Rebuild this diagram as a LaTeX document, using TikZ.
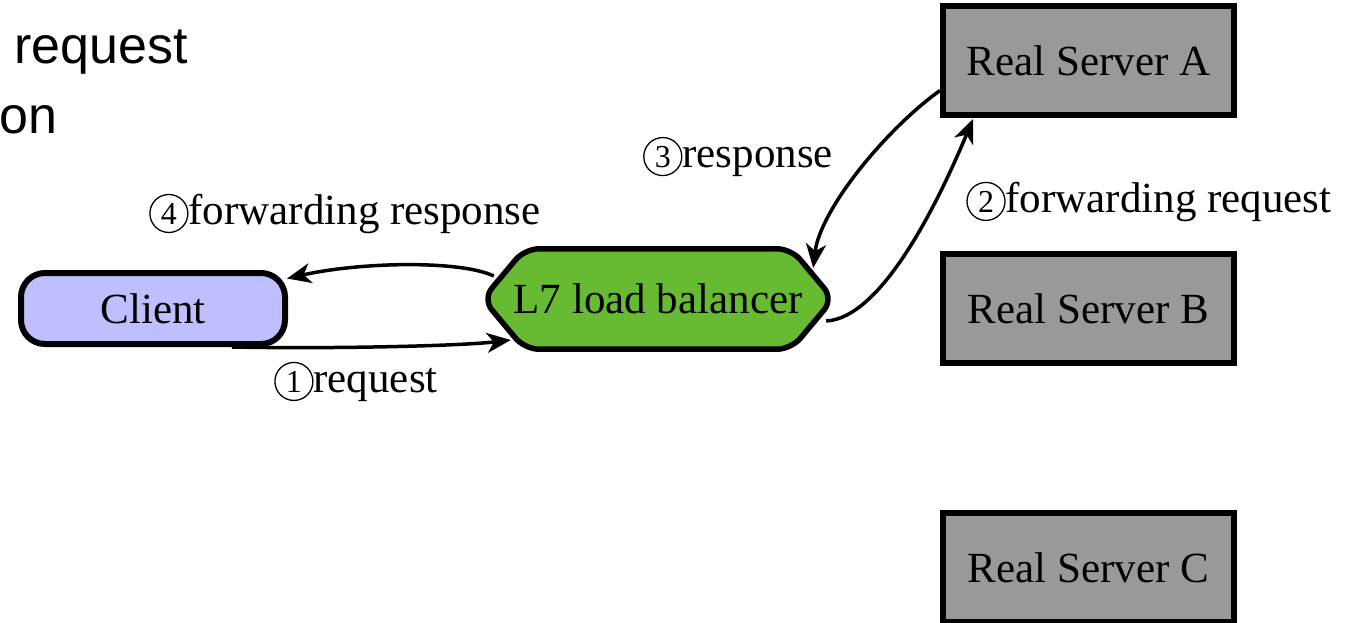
\documentclass[tikz,border=0pt]{standalone}
\usepackage{fontspec}
\setmainfont{Liberation Serif}
\newfontfamily\notesans{Liberation Sans}
\usetikzlibrary{arrows.meta,backgrounds}

\definecolor{clientfill}{HTML}{BFBFFF}
\definecolor{lbfill}{HTML}{66BB33}
\definecolor{serverfill}{HTML}{999999}

% circled step number
\newcommand\cnum[1]{\tikz[baseline=(d.base)]\node[circle,draw,line width=1.3pt,minimum size=38pt,inner sep=0pt,outer sep=0pt,font=\fontsize{32}{32}\selectfont](d){#1};}

\tikzset{
  serif43/.style={font=\fontsize{43}{48}\selectfont},
  sansnote/.style={font=\notesans\fontsize{52}{60}\selectfont, inner sep=0pt},
  clientbox/.style={serif43, draw, line width=6pt, fill=clientfill, rounded corners=24pt,
    minimum width=264pt, minimum height=71pt, inner sep=0pt},
  serverbox/.style={serif43, draw, line width=6pt, fill=serverfill,
    minimum width=291pt, minimum height=109pt, inner sep=0pt},
  lbtext/.style={serif43, minimum width=350pt, minimum height=100pt, inner sep=0pt},
  lbshape/.style={draw, line width=5.5pt, fill=lbfill, rounded corners=14pt, line join=round},
  flow/.style={line width=3.5pt, -{Stealth[length=24pt,width=20pt,inset=7pt]}},
  steplabel/.style={serif43, inner sep=0pt, anchor=base},
}

\begin{document}
\begin{tikzpicture}[x=1pt,y=-1pt]
\useasboundingbox (0,0) rectangle (1363,622);
\clip (0,0) rectangle (1363,622);

% caption fragments at the top left
\node[sansnote, anchor=base west] (note1) at (14,63) {request};
\node[sansnote, anchor=base west] (note2) at (-1,133) {on};

% nodes
\node[clientbox] (client) at (153,308.5) {Client};
\node[lbtext] (lb) at (658,299) {L7 load balancer};
\begin{scope}[on background layer]
  \draw[lbshape] (lb.west) -- ([shift={(42,0)}]lb.north west) -- ([shift={(-42,0)}]lb.north east)
    -- (lb.east) -- ([shift={(-42,0)}]lb.south east) -- ([shift={(42,0)}]lb.south west) -- cycle;
\end{scope}
\node[serverbox] (sa) at (1088.5,60.5) {Real Server A};
\node[serverbox] (sb) at (1088.5,308.5) {Real Server B};
\node[serverbox] (sc) at (1088.5,567.5) {Real Server C};

% connectors
\draw[flow] ([shift={(79,0)}]client.south) .. controls (330,349) and (460,346) .. ([shift={(28,41)}]lb.west);
\draw[flow] ([shift={(-7,22)}]lb.east) .. controls (880,318) and (935,210) .. ([shift={(33,1)}]sa.south west);
\draw[flow] ([shift={(0,30)}]sa.west) .. controls (885,130) and (820,210) .. ([shift={(-20,-31)}]lb.east);
\draw[flow] ([shift={(11,-23)}]lb.west) .. controls (460,260) and (360,262) .. ([shift={(-1,-30)}]client.east);

% step labels
\node[steplabel] (step1) at (356,392) {\cnum{1}request};
\node[steplabel] (step2) at (1149,212) {\cnum{2}forwarding request};
\node[steplabel] (step3) at (738,167) {\cnum{3}response};
\node[steplabel] (step4) at (345,224) {\cnum{4}forwarding response};
\end{tikzpicture}
\end{document}
